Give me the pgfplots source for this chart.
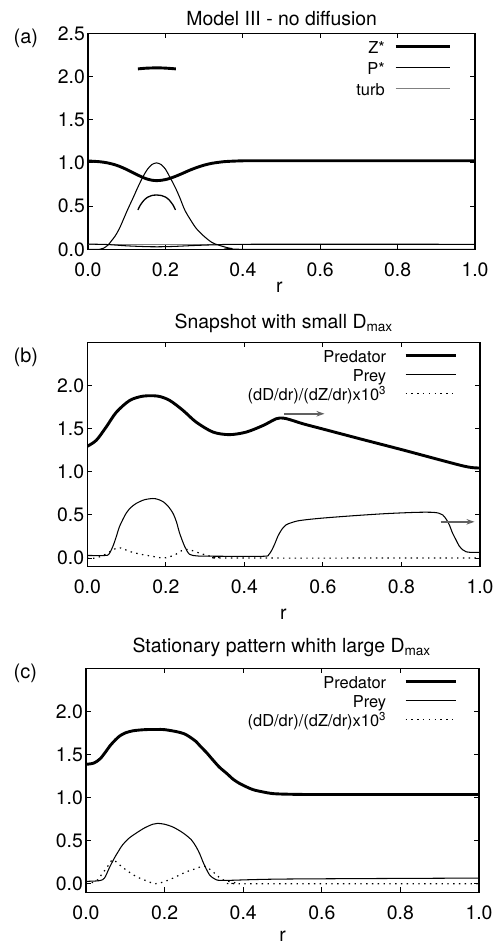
\documentclass[border=0pt]{standalone}
\usepackage{fontspec}
\setmainfont{TeX Gyre Heros}
\usepackage{pgfplots}
\pgfplotsset{compat=1.18}
\usetikzlibrary{arrows.meta}

\definecolor{turbgray}{gray}{0.5}
\definecolor{arrgray}{gray}{0.38}

\pgfplotsset{
  myax/.style={
    scale only axis, anchor=south west, xmin=0, xmax=1,
    axis line style={line width=1.2bp},
    every tick/.style={line width=1bp, black},
    major tick length=5bp, tick align=inside,
    xtick={0,0.2,0.4,0.6,0.8,1.0},
    tick label style={font=\fontsize{19.5}{22}\selectfont},
    xticklabel style={anchor=north, inner sep=0pt, yshift=-13bp},
    yticklabel style={anchor=east, inner sep=0pt, xshift=-3bp},
    /pgf/number format/fixed, /pgf/number format/fixed zerofill,
    /pgf/number format/precision=1, /pgf/number format/assume math mode=true,
    legend cell align=right, legend plot pos=right,
    legend image code/.code={\draw[##1] (0bp,3.5bp) -- (50bp,3.5bp);},
    legend style={draw=none, fill=none, at={(1,1)}, anchor=north east,
      inner sep=0pt, outer sep=0pt, font=\fontsize{16.5}{19}\selectfont,
      row sep=3bp, column sep=18bp,
      nodes={inner sep=0pt, text height=12bp, text depth=4bp}},
  },
  thickl/.style={black, line width=2.9bp, smooth},
  thinl/.style={black, line width=1.05bp, smooth},
  dotl/.style={black, line width=1.2bp, dash pattern=on 1.4bp off 4.4bp, smooth},
}

\begin{document}
\begin{tikzpicture}
\useasboundingbox (0bp,0bp) rectangle (499bp,947bp);

% ---------------- (a) ----------------
\begin{axis}[myax, at={(88bp,697.7bp)}, width=387bp, height=216bp,
  ymin=0, ymax=2.5, ytick={0,0.5,1,1.5,2,2.5},
  legend style={xshift=-24bp, yshift=-8.5bp, column sep=9.4bp, row sep=5bp},
  legend image code/.code={\draw[#1] (0bp,3.5bp) -- (54bp,3.5bp);}]
\addplot[thickl] coordinates {
(0,1.022) (0.03,1.0135) (0.05,1.0004) (0.07,0.978) (0.09,0.944) (0.11,0.901)
(0.13,0.856) (0.15,0.817) (0.165,0.800) (0.177,0.795) (0.19,0.799) (0.205,0.812)
(0.22,0.834) (0.24,0.870) (0.26,0.910) (0.28,0.945) (0.30,0.974) (0.32,0.995)
(0.35,1.0135) (0.38,1.021) (0.42,1.025) (0.6,1.025) (1.0,1.025)};
\addlegendentry{Z*}
\addplot[thinl] coordinates {
(0,0) (0.03,0.0) (0.04,0.012) (0.052,0.05) (0.06,0.095) (0.069,0.146) (0.08,0.23)
(0.09,0.33) (0.102,0.455) (0.117,0.60) (0.129,0.72) (0.142,0.84) (0.154,0.928)
(0.165,0.98) (0.177,1.0) (0.189,0.98) (0.2,0.928) (0.211,0.84) (0.225,0.72)
(0.237,0.60) (0.25,0.455) (0.265,0.34) (0.28,0.24) (0.301,0.146) (0.32,0.08)
(0.336,0.05) (0.355,0.025) (0.37,0.01) (0.40,0.0) (1.0,0.0)};
\addlegendentry{P*}
\addplot[turbgray, line width=1.3bp] coordinates {(0,0.058) (1,0.058)};
\addlegendentry{turb}
\addplot[thickl, forget plot] coordinates {
(0.129,2.088) (0.15,2.096) (0.177,2.10) (0.2,2.097) (0.227,2.088)};
\addplot[black, line width=1.3bp, smooth, forget plot] coordinates {
(0.129,0.455) (0.135,0.51) (0.145,0.57) (0.155,0.605) (0.165,0.623) (0.177,0.628)
(0.19,0.622) (0.2,0.605) (0.21,0.57) (0.22,0.51) (0.226,0.455)};
\addplot[thinl, forget plot] coordinates {
(0,0.06) (0.05,0.055) (0.1,0.04) (0.15,0.031) (0.18,0.029) (0.22,0.033)
(0.28,0.045) (0.35,0.055) (0.4,0.058) (1.0,0.058)};
\end{axis}

% ---------------- (b) ----------------
\begin{axis}[myax, at={(87.3bp,380.3bp)}, width=392.7bp, height=224.4bp,
  ymin=-0.1, ymax=2.5, ytick={0,0.5,1,1.5,2},
  legend style={xshift=-23bp, yshift=-8.5bp}]
\addplot[thickl] coordinates {
(0,1.295) (0.023,1.365) (0.048,1.518) (0.074,1.69) (0.108,1.826) (0.142,1.876)
(0.18,1.876) (0.21,1.826) (0.244,1.71) (0.277,1.576) (0.32,1.46) (0.362,1.43)
(0.405,1.46) (0.448,1.537) (0.481,1.614) (0.498,1.622) (0.515,1.605) (0.55,1.555)
(0.6,1.495) (0.7,1.375) (0.8,1.257) (0.9,1.135) (0.95,1.075) (0.97,1.055)
(0.985,1.046) (1.0,1.043)};
\addlegendentry{Predator}
\addplot[thinl] coordinates {
(0,0.03) (0.045,0.03) (0.055,0.045) (0.065,0.134) (0.074,0.25) (0.082,0.365)
(0.099,0.52) (0.112,0.59) (0.125,0.634) (0.145,0.675) (0.167,0.69) (0.18,0.68)
(0.193,0.653) (0.205,0.605) (0.218,0.52) (0.227,0.42) (0.235,0.29) (0.248,0.134)
(0.26,0.045) (0.277,0.026) (0.3,0.022) (0.4,0.02) (0.455,0.022) (0.462,0.04)
(0.468,0.077) (0.477,0.16) (0.485,0.25) (0.495,0.33) (0.506,0.384) (0.52,0.41)
(0.54,0.434) (0.591,0.46) (0.676,0.49) (0.761,0.515) (0.84,0.53) (0.88,0.53)
(0.895,0.52) (0.905,0.50) (0.914,0.45) (0.922,0.384) (0.93,0.29) (0.939,0.21)
(0.947,0.14) (0.956,0.096) (0.965,0.072) (0.975,0.066) (1.0,0.065)};
\addlegendentry{Prey}
\addplot[dotl] coordinates {
(0,0.0) (0.02,0.0) (0.04,0.03) (0.06,0.08) (0.074,0.115) (0.085,0.118)
(0.108,0.077) (0.135,0.045) (0.167,0.019) (0.193,0.0) (0.21,0.015) (0.226,0.045)
(0.24,0.085) (0.252,0.10) (0.265,0.09) (0.286,0.057) (0.31,0.025) (0.337,0.007)
(0.36,0.0) (1.0,0.0)};
\addlegendentry{(dD/dr)/(dZ/dr)x10\textsuperscript{3}}
\draw[arrgray, line width=1.5bp, -{Stealth[length=8bp,width=5.5bp]}]
  (axis cs:0.502,1.672) -- (axis cs:0.604,1.672);
\draw[arrgray, line width=1.5bp, -{Stealth[length=8bp,width=5.5bp]}]
  (axis cs:0.90,0.42) -- (axis cs:0.986,0.42);
\end{axis}

% ---------------- (c) ----------------
\begin{axis}[myax, at={(86bp,54.7bp)}, width=393bp, height=224bp,
  ymin=-0.1, ymax=2.5, ytick={0,0.5,1,1.5,2},
  legend style={xshift=-22bp, yshift=-8.5bp}]
\addplot[thickl] coordinates {
(0,1.385) (0.02,1.40) (0.036,1.45) (0.05,1.53) (0.061,1.60) (0.075,1.67)
(0.086,1.715) (0.1,1.75) (0.12,1.775) (0.15,1.788) (0.18,1.79) (0.2,1.788)
(0.23,1.765) (0.25,1.74) (0.265,1.70) (0.28,1.65) (0.29,1.60) (0.307,1.52)
(0.324,1.43) (0.34,1.35) (0.358,1.28) (0.375,1.21) (0.392,1.16) (0.41,1.12)
(0.426,1.09) (0.45,1.065) (0.477,1.045) (0.52,1.038) (0.6,1.035) (1.0,1.035)};
\addlegendentry{Predator}
\addplot[thinl] coordinates {
(0,0.027) (0.034,0.035) (0.047,0.065) (0.059,0.18) (0.072,0.296) (0.083,0.38)
(0.093,0.45) (0.11,0.53) (0.127,0.585) (0.15,0.65) (0.17,0.69) (0.182,0.70)
(0.2,0.69) (0.22,0.66) (0.24,0.61) (0.254,0.565) (0.268,0.51) (0.28,0.43)
(0.29,0.34) (0.297,0.26) (0.305,0.18) (0.314,0.104) (0.322,0.07) (0.331,0.046)
(0.356,0.038) (0.509,0.054) (1.0,0.065)};
\addlegendentry{Prey}
\addplot[dotl] coordinates {
(0,0.0) (0.025,0.027) (0.042,0.12) (0.055,0.2) (0.068,0.277) (0.085,0.22)
(0.105,0.15) (0.127,0.085) (0.15,0.04) (0.178,0.0) (0.212,0.046) (0.254,0.135)
(0.28,0.175) (0.301,0.205) (0.322,0.142) (0.335,0.09) (0.348,0.046) (0.382,0.008)
(0.4,0.0) (1.0,0.0)};
\addlegendentry{(dD/dr)/(dZ/dr)x10\textsuperscript{3}}
\end{axis}

% ---------------- text ----------------
\begin{scope}[font=\fontsize{19.5}{22}\selectfont]
\node[anchor=base, inner sep=0pt] at (281.7bp,921.3bp) {Model III - no diffusion};
\node[anchor=base, inner sep=0pt] at (283.7bp,618.7bp) {Snapshot with small D\textsubscript{max}};
\node[anchor=base, inner sep=0pt] at (281.7bp,294.3bp) {Stationary pattern whith large D\textsubscript{max}};
\end{scope}
\begin{scope}[font=\fontsize{20}{22}\selectfont]
\node[anchor=base, inner sep=0pt] at (25.8bp,903.9bp) {(a)};
\node[anchor=base, inner sep=0pt] at (25.8bp,584.5bp) {(b)};
\node[anchor=base, inner sep=0pt] at (25.3bp,268.5bp) {(c)};
\end{scope}
\begin{scope}[font=\fontsize{19.5}{22}\selectfont]
\node[anchor=base, inner sep=0pt] at (279.3bp,654.3bp) {r};
\node[anchor=base, inner sep=0pt] at (283.3bp,327bp) {r};
\node[anchor=base, inner sep=0pt] at (282.7bp,6bp) {r};
\end{scope}
\end{tikzpicture}
\end{document}
